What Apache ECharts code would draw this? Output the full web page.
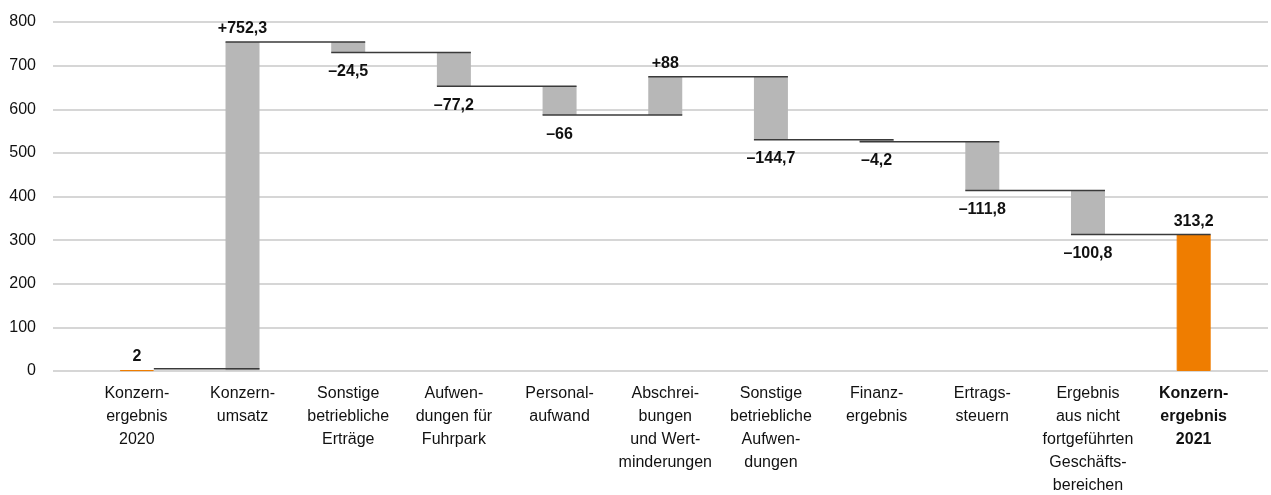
<!DOCTYPE html>
<html>
<head>
<meta charset="utf-8">
<script src="https://cdn.jsdelivr.net/npm/echarts@6/dist/echarts.min.js"></script>
<style>
html,body{margin:0;padding:0;background:#fff;}
#chart{width:1271px;height:495px;}
</style>
</head>
<body>
<div id="chart"></div>
<script>
// ---- data ----
const categories = [
  'Konzern-\nergebnis\n2020',
  'Konzern-\numsatz',
  'Sonstige\nbetriebliche\nErträge',
  'Aufwen-\ndungen für\nFuhrpark',
  'Personal-\naufwand',
  'Abschrei-\nbungen\nund Wert-\nminderungen',
  'Sonstige\nbetriebliche\nAufwen-\ndungen',
  'Finanz-\nergebnis',
  'Ertrags-\nsteuern',
  'Ergebnis\naus nicht\nfortgeführten\nGeschäfts-\nbereichen',
  'Konzern-\nergebnis\n2021'
];
const deltas = [2, 752.3, -24.5, -77.2, -66, 88, -144.7, -4.2, -111.8, -100.8, 313.2];
const dataLabels = ['2', '+752,3', '–24,5', '–77,2', '–66', '+88', '–144,7', '–4,2', '–111,8', '–100,8', '313,2'];
const isTotal = [true, false, false, false, false, false, false, false, false, false, true];
const yTicks = [0, 100, 200, 300, 400, 500, 600, 700, 800];

// ---- derived waterfall geometry (from data) ----
const base = [], height = [], levels = [];
let cum = 0;
deltas.forEach((d, i) => {
  if (isTotal[i]) {
    base.push(0); height.push(d); cum = d;
  } else {
    const next = cum + d;
    base.push(Math.min(cum, next)); height.push(Math.abs(d)); cum = next;
  }
  levels.push(cum);
});

const FONT = '"Liberation Sans Narrow","Arial Narrow","Liberation Sans",Arial,sans-serif';
const ORANGE = '#EF7D00';
const GRAY = '#B7B7B7';
const BAR_W = 34;

const chart = echarts.init(document.getElementById('chart'), null, {renderer: 'canvas'});

const barData = height.map((h, i) => ({
  value: h,
  itemStyle: isTotal[i] ? {color: ORANGE, borderColor: ORANGE, borderWidth: 1} : {color: GRAY},
  label: deltas[i] < 0 ? {position: 'bottom', distance: 11} : {position: 'top', distance: 5}
}));

const catData = categories.map((c, i) => i === categories.length - 1
  ? {value: c, textStyle: {fontWeight: 'bold'}} : c);

const connectorData = levels.slice(0, -1).map((lv, i) => [i, lv, isTotal[i] ? 1 : 0]);

chart.setOption({
  animation: false,
  grid: [
    {left: 53, right: 3, top: 22, bottom: 124, containLabel: false, outerBoundsMode: 'none'},
    {left: 84, right: 24.5, top: 22, bottom: 124, containLabel: false, outerBoundsMode: 'none'}
  ],
  xAxis: [
    {gridIndex: 0, type: 'value', min: 0, max: 1, show: false},
    {gridIndex: 1, type: 'category', data: catData,
     axisLine: {show: false}, axisTick: {show: false},
     axisLabel: {interval: 0, margin: 11, fontFamily: FONT, fontSize: 16, lineHeight: 23, color: '#111'}}
  ],
  yAxis: [
    {gridIndex: 0, type: 'value', min: yTicks[0], max: yTicks[yTicks.length - 1], interval: 100,
     axisLine: {show: false}, axisTick: {show: false},
     axisLabel: {margin: 17, fontFamily: FONT, fontSize: 16, color: '#111'},
     splitLine: {lineStyle: {color: '#C8C8C8', width: 1.5}}},
    {gridIndex: 1, type: 'value', min: yTicks[0], max: yTicks[yTicks.length - 1], interval: 100, show: false,
     splitLine: {show: false}}
  ],
  series: [
    {type: 'bar', xAxisIndex: 1, yAxisIndex: 1, stack: 'w', data: base, barWidth: BAR_W,
     itemStyle: {color: 'transparent'}, silent: true},
    {type: 'bar', xAxisIndex: 1, yAxisIndex: 1, stack: 'w', data: barData, barWidth: BAR_W,
     label: {show: true, fontFamily: FONT, fontSize: 16, fontWeight: 'bold', color: '#111',
             formatter: p => dataLabels[p.dataIndex]}},
    {type: 'custom', xAxisIndex: 1, yAxisIndex: 1, data: connectorData, z: 5,
     renderItem: (params, api) => {
       const i = api.value(0), lv = api.value(1), fromRight = api.value(2);
       const a = api.coord([i, lv]);
       const b = api.coord([i + 1, lv]);
       const x1 = fromRight ? a[0] + BAR_W / 2 : a[0] - BAR_W / 2;
       const y = fromRight ? a[1] - 1.5 : a[1];
       return {type: 'line', shape: {x1: x1, y1: y, x2: b[0] + BAR_W / 2, y2: y},
               style: {stroke: '#3a3a3a', lineWidth: 1.5}};
     }}
  ]
});
</script>
</body>
</html>
